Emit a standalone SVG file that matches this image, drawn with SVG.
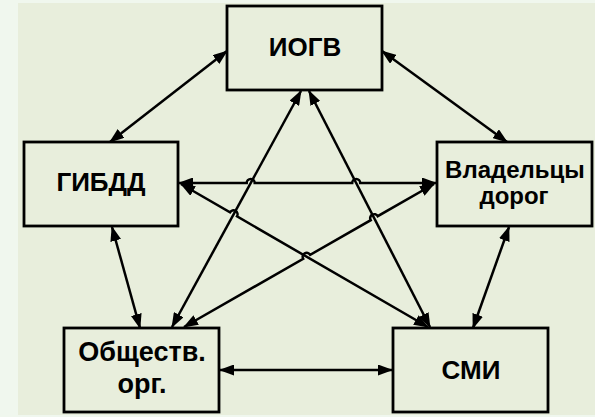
<svg xmlns="http://www.w3.org/2000/svg" width="595" height="417" viewBox="0 0 595 417">
<style>
.box{fill:none;stroke:#000;stroke-width:2.8}
.lbl{font-family:"Liberation Sans",Arial,sans-serif;font-weight:bold;fill:#000;text-anchor:middle}
.big{font-size:26px}
.mid{font-size:24px}
.obs{font-size:27px}
.con{fill:none;stroke:#000;stroke-width:2.5;marker-start:url(#ah);marker-end:url(#ah)}
</style>
<defs>
<marker id="ah" viewBox="0 0 15 11" refX="14" refY="5.5" markerWidth="15" markerHeight="11" markerUnits="userSpaceOnUse" orient="auto-start-reverse">
<path d="M0,0 L15,5.5 L0,11 z" fill="#000"/>
</marker>
</defs>
<rect x="0" y="0" width="595" height="417" fill="#f0f7ee"/>
<rect x="18" y="3" width="577" height="412" fill="#e8eedc"/>
<g id="connectors">
<path class="con" d="M110,142 L227,51"/>
<path class="con" d="M382,51 L507,142"/>
<path class="con" d="M179,183 L246.7,183 A4,4 0 0 1 254.7,183 L352.2,183 A4,4 0 0 1 360.2,183 L436,183"/>
<path class="con" d="M112,227 L140,328"/>
<path class="con" d="M509,227 L473,328"/>
<path class="con" d="M220,370 L392,370"/>
<path class="con" d="M301,91 L172,327"/>
<path class="con" d="M309,91 L430,327"/>
<path class="con" d="M181,184 L230,212.4 A4,4 0 0 1 237,216.4 L428,327"/>
<path class="con" d="M434,184 L377.7,216.2 A4,4 0 0 0 370.7,220.2 L310.2,254.8 A4,4 0 0 0 303.2,258.8 L184,327"/>
</g>
<g id="iogv">
<rect class="box" x="227" y="6" width="155" height="84"/>
<text class="lbl big" x="305" y="56">ИОГВ</text>
</g>
<g id="gibdd">
<rect class="box" x="24" y="142" width="154" height="84"/>
<text class="lbl big" x="101" y="191">ГИБДД</text>
</g>
<g id="vladeltsy">
<rect class="box" x="437" y="142" width="155" height="84"/>
<text class="lbl mid" x="515" y="178">Владельцы</text>
<text class="lbl mid" x="514" y="204">дорог</text>
</g>
<g id="obshch">
<rect class="box" x="64" y="328" width="155" height="84"/>
<text class="lbl obs" x="142" y="361">Обществ.</text>
<text class="lbl obs" x="142" y="393">орг.</text>
</g>
<g id="smi">
<rect class="box" x="393" y="328" width="155" height="84"/>
<text class="lbl big" x="471" y="379">СМИ</text>
</g>
</svg>
